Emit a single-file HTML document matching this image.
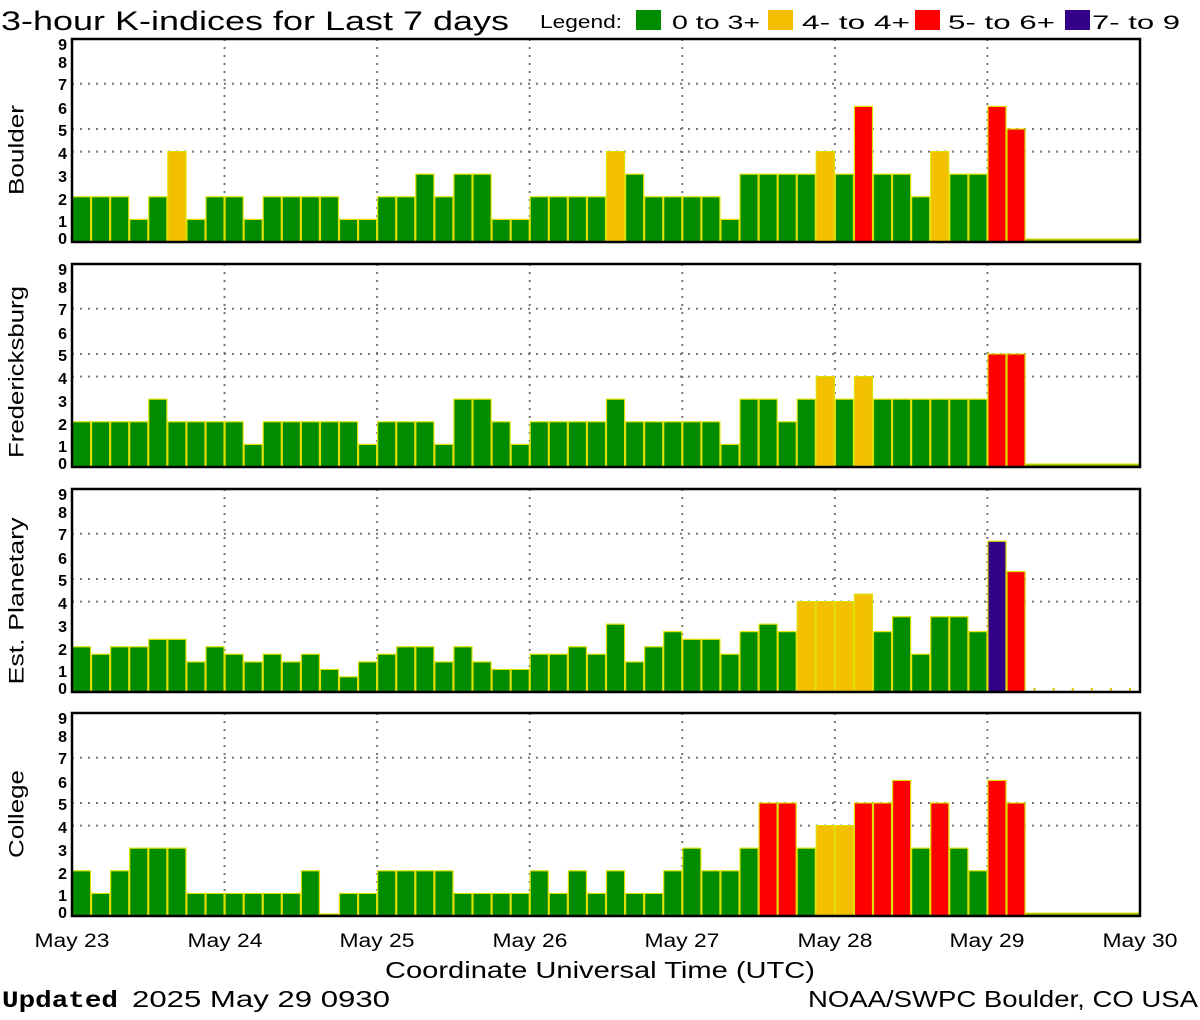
<!DOCTYPE html>
<html><head><meta charset="utf-8"><style>
html,body{margin:0;padding:0;background:#fff;}
svg{display:block;}
text{font-family:"Liberation Sans",sans-serif;fill:#000;}
</style></head><body>
<svg id="s" width="1200" height="1020" viewBox="0 0 1200 1020" xmlns="http://www.w3.org/2000/svg">
<text x="1" y="30" font-size="27" textLength="508" lengthAdjust="spacingAndGlyphs">3-hour K-indices for Last 7 days</text>
<text x="540" y="28" font-size="18" textLength="82" lengthAdjust="spacingAndGlyphs">Legend:</text>
<rect x="636" y="10" width="25" height="20" fill="#008c00"/>
<text x="672" y="29" font-size="19" textLength="88" lengthAdjust="spacingAndGlyphs">0 to 3+</text>
<rect x="768" y="10" width="25" height="20" fill="#f2c000"/>
<text x="802" y="29" font-size="19" textLength="108" lengthAdjust="spacingAndGlyphs">4- to 4+</text>
<rect x="915" y="10" width="25" height="20" fill="#ff0000"/>
<text x="948" y="29" font-size="19" textLength="107" lengthAdjust="spacingAndGlyphs">5- to 6+</text>
<rect x="1065" y="10" width="25" height="20" fill="#330088"/>
<text x="1092" y="29" font-size="19" textLength="88" lengthAdjust="spacingAndGlyphs">7- to 9</text>
<g id="panels"></g>
<text x="18" y="150" font-size="21" text-anchor="middle" transform="rotate(-90 18 150)" dominant-baseline="middle" textLength="90" lengthAdjust="spacingAndGlyphs">Boulder</text>
<text x="18" y="372" font-size="21" text-anchor="middle" transform="rotate(-90 18 372)" dominant-baseline="middle" textLength="172" lengthAdjust="spacingAndGlyphs">Fredericksburg</text>
<text x="18" y="601" font-size="21" text-anchor="middle" transform="rotate(-90 18 601)" dominant-baseline="middle" textLength="167" lengthAdjust="spacingAndGlyphs">Est. Planetary</text>
<text x="18" y="814" font-size="21" text-anchor="middle" transform="rotate(-90 18 814)" dominant-baseline="middle" textLength="88" lengthAdjust="spacingAndGlyphs">College</text>
<g font-size="19" text-anchor="middle">
<text x="72" y="947" textLength="75" lengthAdjust="spacingAndGlyphs">May 23</text>
<text x="225" y="947" textLength="75" lengthAdjust="spacingAndGlyphs">May 24</text>
<text x="377" y="947" textLength="75" lengthAdjust="spacingAndGlyphs">May 25</text>
<text x="530" y="947" textLength="75" lengthAdjust="spacingAndGlyphs">May 26</text>
<text x="682" y="947" textLength="75" lengthAdjust="spacingAndGlyphs">May 27</text>
<text x="835" y="947" textLength="75" lengthAdjust="spacingAndGlyphs">May 28</text>
<text x="987" y="947" textLength="75" lengthAdjust="spacingAndGlyphs">May 29</text>
<text x="1140" y="947" textLength="75" lengthAdjust="spacingAndGlyphs">May 30</text>
</g>
<text x="385" y="978" font-size="23" textLength="430" lengthAdjust="spacingAndGlyphs">Coordinate Universal Time (UTC)</text>
<text x="2" y="1007" font-size="23" font-weight="bold" style="font-family:'Liberation Mono',monospace" textLength="116" lengthAdjust="spacingAndGlyphs">Updated</text>
<text x="132" y="1007" font-size="23" textLength="258" lengthAdjust="spacingAndGlyphs">2025 May 29 0930</text>
<text x="808" y="1007" font-size="23" textLength="390" lengthAdjust="spacingAndGlyphs">NOAA/SWPC Boulder, CO USA</text>
</svg>
<script>
var NS="http://www.w3.org/2000/svg";
var g=document.getElementById("panels");
function el(n,a){var e=document.createElementNS(NS,n);for(var k in a)e.setAttribute(k,a[k]);g.appendChild(e);return e;}
var data=[
[2,2,2,1,2,4,1,2, 2,1,2,2,2,2,1,1, 2,2,3,2,3,3,1,1, 2,2,2,2,4,3,2,2, 2,2,1,3,3,3,3,4, 3,6,3,3,2,4,3,3, 6,5],
[2,2,2,2,3,2,2,2, 2,1,2,2,2,2,2,1, 2,2,2,1,3,3,2,1, 2,2,2,2,3,2,2,2, 2,2,1,3,3,2,3,4, 3,4,3,3,3,3,3,3, 5,5],
[2,1.67,2,2,2.33,2.33,1.33,2, 1.67,1.33,1.67,1.33,1.67,1,0.67,1.33, 1.67,2,2,1.33,2,1.33,1,1, 1.67,1.67,2,1.67,3,1.33,2,2.67, 2.33,2.33,1.67,2.67,3,2.67,4,4, 4,4.33,2.67,3.33,1.67,3.33,3.33,2.67, 6.67,5.33],
[2,1,2,3,3,3,1,1, 1,1,1,1,2,0,1,1, 2,2,2,2,1,1,1,1, 2,1,2,1,2,1,1,2, 3,2,2,3,5,5,3,4, 4,5,5,6,3,5,3,2, 6,5]
];
var tops=[39,264,489,713];
var X0=72,X1=1140,bw=(X1-X0)/56,H=203,U=22.6;
var ylab=[[0,199],[1,182],[2,160],[3,137],[4,114],[5,91],[6,69],[7,45],[8,23],[9,5]];
for(var p=0;p<4;p++){
 var t=tops[p],b=t+H;
 [4,5,7].forEach(function(v){el("line",{x1:X0,x2:X1,y1:b-v*U,y2:b-v*U,stroke:"#777","stroke-width":2,"stroke-dasharray":"2 6"});});
 for(var d=1;d<7;d++){var x=X0+d*bw*8;el("line",{x1:x,x2:x,y1:t,y2:b,stroke:"#777","stroke-width":2,"stroke-dasharray":"2 6"});}
 var arr=data[p];
 for(var i=0;i<arr.length;i++){
  var v=arr[i],h=Math.max(v*U,2),col;
  if(v<3.9)col="#008c00";else if(v<4.9)col="#f2c000";else if(v<6.5)col="#ff0000";else col="#330088";
  el("rect",{x:X0+i*bw+0.5,y:b-h,width:bw-1,height:h,fill:col,stroke:"#e0e000","stroke-width":1.2});
 }
 if(p!=2)el("rect",{x:X0+50*bw,y:b-3,width:6*bw,height:3,fill:"#8cb800",stroke:"#e0e000","stroke-width":1});
 else for(var j=50;j<56;j++)el("rect",{x:X0+j*bw+8,y:b-4,width:2,height:4,fill:"#e0c000"});
 el("rect",{x:X0,y:t,width:X1-X0,height:H,fill:"none",stroke:"#000","stroke-width":2.5});
 ylab.forEach(function(q){var e=el("text",{x:67,y:t+q[1]+6,"font-size":16,"text-anchor":"end","font-weight":"bold"});e.textContent=q[0];});
}
</script>
</body></html>
